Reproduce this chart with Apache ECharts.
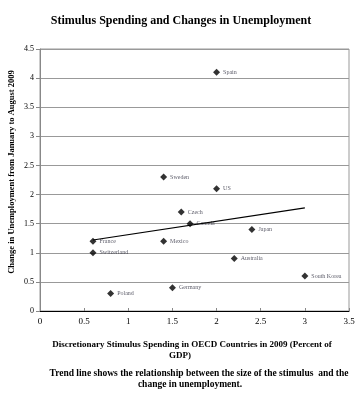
<!DOCTYPE html>
<html><head><meta charset="utf-8">
<script src="https://cdn.jsdelivr.net/npm/echarts@6/dist/echarts.min.js"></script>
<style>html,body{margin:0;padding:0;background:#fff}#c{width:362px;height:400px}</style>
</head><body><div id="c"></div>
<script>
const countries = ['Spain','Sweden','US','Czech','Canada','France','Mexico','Switzerland','Japan','Australia','South Korea','Germany','Poland'];
const stimulus = [2.0,1.4,2.0,1.6,1.7,0.6,1.4,0.6,2.4,2.2,3.0,1.5,0.8];
const unemployment = [4.1,2.3,2.1,1.7,1.5,1.2,1.2,1.0,1.4,0.9,0.6,0.4,0.3];
const trendX = [0.6,3.0];
const trendY = [1.22,1.77];
const xTicks = [0,0.5,1,1.5,2,2.5,3,3.5];
const yTicks = [0,0.5,1,1.5,2,2.5,3,3.5,4,4.5];

const F = 'Liberation Serif, Times New Roman, serif';
const pts = countries.map((n,i)=>({name:n,value:[stimulus[i],unemployment[i]]}));
const chart = echarts.init(document.getElementById('c'),null,{renderer:'canvas'});
const txt = (x,y,t,fs)=>({type:'text',x:x,y:y,style:{text:t,fontFamily:F,fontSize:fs,fontWeight:'bold',fill:'#000',align:'center',verticalAlign:'middle'}});
chart.setOption({
  animation:false,
  title:{text:'Stimulus Spending and Changes in Unemployment',left:'center',top:10,
    textStyle:{fontFamily:F,fontSize:12,fontWeight:'bold',color:'#000'}},
  grid:{left:40,right:13,top:49,bottom:89,show:true,borderColor:'#999',borderWidth:1,outerBoundsMode:'none',containLabel:false},
  xAxis:{type:'value',min:0,max:3.5,interval:0.5,
    axisLine:{lineStyle:{color:'#000',width:1}},
    axisTick:{inside:true,length:3,lineStyle:{color:'#888'}},
    splitLine:{show:false},
    axisLabel:{fontFamily:F,fontSize:9,color:'#000',margin:6,formatter:v=>String(v)}},
  yAxis:{type:'value',min:0,max:4.5,interval:0.5,
    axisLine:{show:true,lineStyle:{color:'#888',width:1}},
    axisTick:{show:true,length:4,lineStyle:{color:'#888'}},
    splitLine:{show:true,lineStyle:{color:'#999',width:1}},
    axisLabel:{fontFamily:F,fontSize:8,color:'#000',margin:6,formatter:v=>String(v)}},
  series:[
    {type:'scatter',data:pts,symbol:'diamond',symbolSize:7,itemStyle:{color:'#000'},
     label:{show:true,position:'right',distance:3,formatter:p=>p.name,fontFamily:F,fontSize:6,color:'#334'}},
    {type:'line',data:trendX.map((x,i)=>[x,trendY[i]]),symbol:'none',lineStyle:{color:'#000',width:1.2},z:3}
  ],
  graphic:[
    Object.assign(txt(12,172,'Change in Unemployment from January to August 2009',8.5),{rotation:Math.PI/2}),
    txt(192,345,'Discretionary Stimulus Spending in OECD Countries in 2009 (Percent of',9),
    txt(180,356,'GDP)',9),
    txt(199,374,'Trend line shows the relationship between the size of the stimulus  and the',9.5),
    txt(190,385,'change in unemployment.',9.5)
  ]
});
</script></body></html>
